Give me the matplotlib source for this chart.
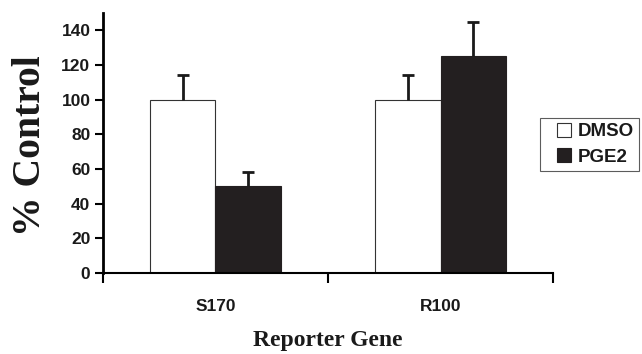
import matplotlib.pyplot as plt
from matplotlib.lines import Line2D
import numpy as np

genes = ["S170", "R100"]
dmso = [100, 100]
dmso_err = [14, 14]
pge2 = [50, 125]
pge2_err = [8, 20]

fig = plt.figure(figsize=(6.42, 3.54), dpi=100)
ax = fig.add_axes([0.1604, 0.2288, 0.701, 0.7345])

x = np.array([0.5, 1.5])
w = 0.29
ink = "#1a1a1a"
ax.bar(x - w / 2, dmso, w, color="white", edgecolor="#333333", linewidth=0.8)
ax.bar(x + w / 2, pge2, w, color="#231f20", edgecolor="#231f20", linewidth=0.8)

# one-sided (upper) error bars with a cap only at the top
for xs, vals, errs in [(x - w / 2, dmso, dmso_err), (x + w / 2, pge2, pge2_err)]:
    tops = np.array(vals) + np.array(errs)
    ax.vlines(xs, vals, tops, color=ink, linewidth=2)
    ax.plot(xs, tops, ls="", marker="_", markersize=8, markeredgewidth=2, color=ink)

ax.set_xlim(0, 2)
ax.set_ylim(0, 150)
ax.set_yticks(range(0, 141, 20))
ax.set_xticks([0, 1, 2])
ax.set_xticklabels([])
ax.set_xticks(x, minor=True)
ax.set_xticklabels(genes, minor=True)
ax.tick_params(axis="x", which="minor", length=0, pad=19)
ax.tick_params(axis="x", which="major", length=7, width=1.5, direction="out")
ax.tick_params(axis="y", length=6, width=1.5, direction="out", pad=3)
for lab in ax.get_xticklabels(minor=True) + ax.get_yticklabels():
    lab.set_fontfamily("Liberation Sans")
    lab.set_fontweight("bold")
    lab.set_fontsize(12.5)
    lab.set_color(ink)

for s in ["top", "right"]:
    ax.spines[s].set_visible(False)
ax.spines["left"].set_linewidth(2)
ax.spines["bottom"].set_linewidth(1.5)

ax.set_xlabel("Reporter Gene", fontfamily="Liberation Serif", fontweight="bold",
              fontsize=17, labelpad=11, color=ink)
ax.set_ylabel("% Control", fontfamily="Liberation Serif", fontweight="bold",
              fontsize=28.5, color=ink)
ax.yaxis.set_label_coords(-0.12, 0.488)

handles = [
    Line2D([], [], ls="", marker="s", markersize=9.5, markerfacecolor="white",
           markeredgecolor="#333333", markeredgewidth=0.8),
    Line2D([], [], ls="", marker="s", markersize=9.5, markerfacecolor="#231f20",
           markeredgecolor="#231f20", markeredgewidth=0.8),
]
leg = ax.legend(handles, ["DMSO", "PGE2"], loc="upper left",
                bbox_to_anchor=(0.841, 0.667), bbox_transform=fig.transFigure,
                borderaxespad=0, fancybox=False, frameon=True,
                handlelength=2.08, handletextpad=-0.32, labelspacing=0.45,
                borderpad=0.27,
                prop={"family": "Liberation Sans", "weight": "bold", "size": 13.5})
leg.get_frame().set_edgecolor("#333333")
leg.get_frame().set_linewidth(0.8)
for t in leg.get_texts():
    t.set_color(ink)

fig.savefig("out.png", dpi=100)
